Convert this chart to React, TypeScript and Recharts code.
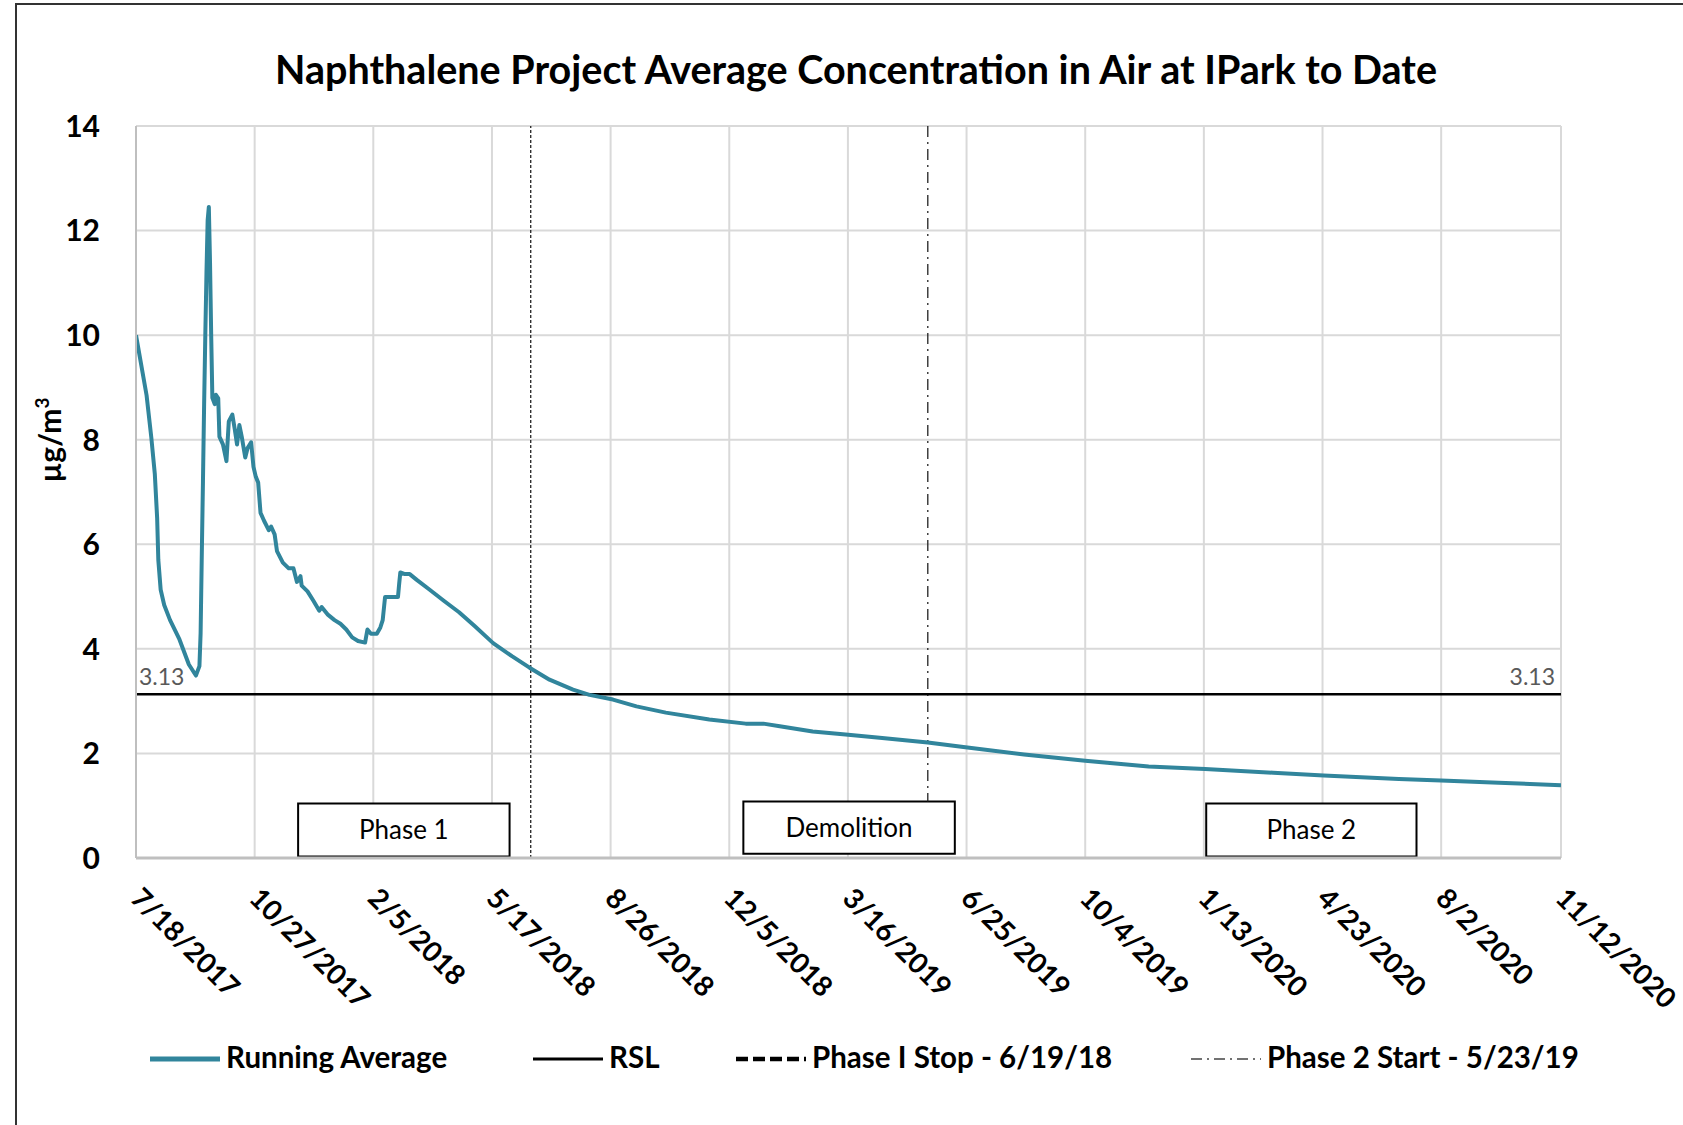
import React from 'react';
import {
  LineChart, Line, XAxis, YAxis, CartesianGrid, ReferenceLine, ReferenceArea,
} from 'recharts';

// running average
const dates = [
  '2017-07-18', '2017-07-27', '2017-07-31', '2017-08-03', '2017-08-05', '2017-08-06', '2017-08-08',
  '2017-08-11', '2017-08-16', '2017-08-24', '2017-09-01', '2017-09-07', '2017-09-10', '2017-09-11',
  '2017-09-12', '2017-09-13', '2017-09-14', '2017-09-15', '2017-09-16', '2017-09-17', '2017-09-18',
  '2017-09-19', '2017-09-20', '2017-09-21', '2017-09-23', '2017-09-24', '2017-09-26', '2017-09-27',
  '2017-09-30', '2017-10-03', '2017-10-05', '2017-10-08', '2017-10-10', '2017-10-12', '2017-10-14',
  '2017-10-16', '2017-10-19', '2017-10-21', '2017-10-24', '2017-10-26', '2017-10-28', '2017-10-30',
  '2017-11-01', '2017-11-04', '2017-11-08', '2017-11-10', '2017-11-13', '2017-11-15', '2017-11-20',
  '2017-11-25', '2017-11-29', '2017-12-02', '2017-12-05', '2017-12-06', '2017-12-11', '2017-12-16',
  '2017-12-21', '2017-12-23', '2017-12-28', '2018-01-03', '2018-01-08', '2018-01-13', '2018-01-18',
  '2018-01-23', '2018-01-29', '2018-01-31', '2018-02-03', '2018-02-08', '2018-02-11', '2018-02-13',
  '2018-02-15', '2018-02-19', '2018-02-26', '2018-02-27', '2018-02-28', '2018-03-04', '2018-03-08',
  '2018-03-14', '2018-03-25', '2018-04-06', '2018-04-19', '2018-05-02', '2018-05-18', '2018-06-03',
  '2018-06-18', '2018-07-05', '2018-07-25', '2018-08-08', '2018-08-28', '2018-09-17', '2018-10-12',
  '2018-11-18', '2018-12-19', '2019-01-03', '2019-01-17', '2019-02-14', '2019-03-14', '2019-04-12',
  '2019-05-23', '2019-06-24', '2019-08-13', '2019-10-04', '2019-11-27', '2020-01-14', '2020-03-12',
  '2020-04-24', '2020-06-27', '2020-08-02', '2020-09-20', '2020-11-12',
];

const runningAverage = [
  10.0, 8.85, 8.05, 7.35, 6.5, 5.7, 5.13,
  4.84, 4.55, 4.18, 3.7, 3.49, 3.67, 4.3,
  5.8, 7.2, 8.7, 10.0, 11.2, 12.2, 12.45,
  11.4, 10.0, 8.8, 8.68, 8.86, 8.79, 8.06,
  7.91, 7.59, 8.35, 8.48, 8.21, 7.91, 8.28,
  8.06, 7.66, 7.84, 7.95, 7.48, 7.29, 7.18,
  6.6, 6.45, 6.27, 6.34, 6.19, 5.87, 5.65,
  5.54, 5.54, 5.28, 5.39, 5.21, 5.1, 4.92,
  4.73, 4.8, 4.66, 4.55, 4.48, 4.37, 4.22,
  4.15, 4.12, 4.37, 4.29, 4.29, 4.41, 4.55,
  4.99, 4.99, 4.99, 5.24, 5.46, 5.43, 5.43,
  5.32, 5.13, 4.92, 4.7, 4.44, 4.11, 3.86,
  3.64, 3.41, 3.22, 3.12, 3.03, 2.9, 2.78,
  2.65, 2.57, 2.57, 2.52, 2.42, 2.36, 2.3,
  2.21, 2.12, 1.98, 1.86, 1.75, 1.7, 1.63,
  1.58, 1.51, 1.48, 1.44, 1.39,
];

const xTicks = [
  '2017-07-18', '2017-10-27', '2018-02-05', '2018-05-17', '2018-08-26', '2018-12-05', '2019-03-16',
  '2019-06-25', '2019-10-04', '2020-01-13', '2020-04-23', '2020-08-02', '2020-11-12',
];
const yTicks = [0, 2, 4, 6, 8, 10, 12, 14];

const RSL = 3.13;
const phase1Stop = '2018-06-19';
const phase2Start = '2019-05-23';

// text boxes inside the plot
const boxNames = ['Phase 1', 'Demolition', 'Phase 2'];
const boxFrom = ['2017-12-03', '2018-12-17', '2020-01-15'];
const boxTo = ['2018-06-01', '2019-06-15', '2020-07-12'];
const boxLow = [0.03, 0.08, 0.03];
const boxHigh = [1.04, 1.08, 1.04];

const FONT = 'Lato, "Open Sans", sans-serif';
const TEAL = '#31859C';

const t = (d: string) => Date.parse(d + 'T00:00:00Z');
const fmtDate = (v: number) => {
  const d = new Date(v);
  return `${d.getUTCMonth() + 1}/${d.getUTCDate()}/${d.getUTCFullYear()}`;
};

const data = dates.map((d, i) => ({ t: t(d), avg: runningAverage[i] }));

const DateTick = ({ x, y, payload }: any) => {
  const tx = x - 7;
  const ty = y + 42;
  return (
    <text x={tx} y={ty} transform={`rotate(45, ${tx}, ${ty})`} fontFamily={FONT} fontSize={28}
      fontWeight={700} fill="#000">
      {fmtDate(payload.value)}
    </text>
  );
};

const ValueTick = ({ x, y, payload }: any) => (
  <text x={x - 36} y={y} dy="0.36em" textAnchor="end" fontFamily={FONT} fontSize={30}
    fontWeight={700} fill="#000">
    {payload.value}
  </text>
);

const YTitle = ({ viewBox }: any) => {
  const cx = viewBox.x + 25;
  const cy = viewBox.y + viewBox.height / 2 - 52;
  return (
    <text x={cx} y={cy} transform={`rotate(-90, ${cx}, ${cy})`} textAnchor="middle"
      fontFamily={FONT} fontSize={30} fontWeight={700} fill="#000">
      µg/m<tspan dy={-12} fontSize={19}>3</tspan>
    </text>
  );
};

const RslLabels = ({ viewBox }: any) => (
  <g fontFamily={FONT} fontSize={23} fill="#595959">
    <text x={viewBox.x + 3} y={viewBox.y - 9}>{RSL}</text>
    <text x={viewBox.x + viewBox.width - 6} y={viewBox.y - 9} textAnchor="end">{RSL}</text>
  </g>
);

const legendItems = [
  { name: 'Running Average', left: 150, stroke: TEAL, width: 5, dash: undefined },
  { name: 'RSL', left: 533, stroke: '#000', width: 3, dash: undefined },
  { name: 'Phase I Stop - 6/19/18', left: 736, stroke: '#000', width: 4.5, dash: '12 5' },
  { name: 'Phase 2 Start - 5/23/19', left: 1191, stroke: '#444', width: 1.3, dash: '11 5 2 5' },
];

export default function App() {
  return (
    <div style={{
      position: 'absolute', left: 0, top: 0, width: 1683, height: 1125, overflow: 'hidden',
      background: '#fff', fontFamily: FONT,
    }}>
      <div style={{
        position: 'absolute', left: 15, top: 3, width: 1700, height: 1200,
        borderLeft: '2px solid #333', borderTop: '2px solid #333',
      }} />
      <div style={{
        position: 'absolute', left: 56, width: 1600, top: 49, textAlign: 'center',
        fontSize: 39.5, lineHeight: '39.5px', fontWeight: 700, color: '#000', whiteSpace: 'nowrap',
      }}>
        Naphthalene Project Average Concentration in Air at IPark to Date
      </div>

      <div style={{ position: 'absolute', left: 0, top: 0 }}>
        <LineChart width={1683} height={1125} data={data}
          margin={{ top: 126, right: 122, bottom: 117, left: 36 }}>
          <CartesianGrid stroke="#d9d9d9" strokeWidth={2} />
          <XAxis dataKey="t" type="number" domain={[t(xTicks[0]), t(xTicks[xTicks.length - 1])]}
            ticks={xTicks.map(t)} interval={0} height={150} tickSize={0} tickMargin={0}
            tickLine={false} axisLine={{ stroke: '#bfbfbf', strokeWidth: 3 }} tick={<DateTick />}
            allowDataOverflow />
          <YAxis type="number" domain={[0, 14]} ticks={yTicks} interval={0} width={100}
            tickSize={0} tickMargin={0} tickLine={false}
            axisLine={{ stroke: '#bfbfbf', strokeWidth: 2 }} tick={<ValueTick />}
            label={<YTitle />} />

          <ReferenceLine x={t(phase1Stop)} stroke="#222" strokeWidth={1.3} strokeDasharray="3 2" />
          <ReferenceLine
            segment={[{ x: t(phase2Start), y: 14 }, { x: t(phase2Start), y: boxHigh[1] }]}
            stroke="#222" strokeWidth={1.3} strokeDasharray="11 5 2 5" />
          <ReferenceLine y={RSL} stroke="#000" strokeWidth={2.5} label={<RslLabels />} />

          {boxNames.map((name, i) => (
            <ReferenceArea key={name} x1={t(boxFrom[i])} x2={t(boxTo[i])} y1={boxLow[i]} y2={boxHigh[i]}
              fill="#fff" fillOpacity={1} stroke="#000" strokeWidth={2} ifOverflow="visible"
              label={{ value: name, position: 'center', fill: '#000', fontSize: 26, fontFamily: FONT }} />
          ))}

          <Line type="linear" dataKey="avg" stroke={TEAL} strokeWidth={4} dot={false}
            strokeLinejoin="round" isAnimationActive={false} />
        </LineChart>
      </div>

      {legendItems.map(item => (
        <div key={item.name} style={{
          position: 'absolute', left: item.left, top: 1041.5, display: 'flex', alignItems: 'flex-start',
          fontSize: 29.5, lineHeight: '29.5px', fontWeight: 700, color: '#000', whiteSpace: 'nowrap',
        }}>
          <svg width={76} height={30}>
            <line x1={0} x2={70} y1={17} y2={17} stroke={item.stroke} strokeWidth={item.width}
              strokeDasharray={item.dash} />
          </svg>
          <span>{item.name}</span>
        </div>
      ))}
    </div>
  );
}
